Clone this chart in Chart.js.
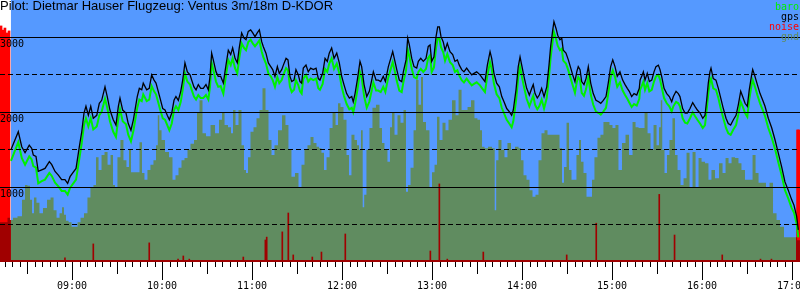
<!DOCTYPE html>
<html lang="de">

<head>
    <meta charset="UTF-8">
    <title>Barogramm D-KDOR</title>
    <script src="https://cdn.jsdelivr.net/npm/chart.js@4.4.1/dist/chart.umd.min.js"></script>
    <style>
        body { margin: 0; background: #fff; }
        .wrap { position: relative; width: 800px; height: 300px; }
        .title { position: absolute; left: 0; top: -2px; font: 13px "Liberation Sans", Arial, sans-serif; color: #000; white-space: nowrap; }
        .legend { position: absolute; right: 1px; top: 2px; font: 10px/10px "DejaVu Sans Mono", monospace; text-align: right; }
    </style>
</head>

<body>
    <div class="wrap">
        <canvas id="barogram"></canvas>
        <div class="title">Pilot: Dietmar Hauser Flugzeug: Ventus 3m/18m D-KDOR</div>
        <div class="legend">
            <div style="color:#00f000">baro</div>
            <div style="color:#000">gps</div>
            <div style="color:#ff0000">noise</div>
            <div style="color:#608c60">gnd</div>
        </div>
    </div>

    <script>
        // times are minutes since midnight, altitudes in metres
        const fixTime = [
            499.3, 504.2, 506.5, 508.7, 511.5, 513.1, 514.2, 516.0, 517.5, 519.8, 522.0, 524.9, 526.5, 528.7, 530.9, 533.1, 535.3, 537.1, 538.7, 540.5,
            542.7, 544.9, 546.5, 548.0, 549.3, 550.9, 552.5, 554.2, 556.5, 558.2, 559.8, 562.0, 563.5, 565.3, 567.5, 569.3, 570.9, 572.0, 573.8, 576.0,
            577.5, 579.3, 580.9, 582.0, 583.5, 584.9, 586.5, 587.5, 589.8, 591.5, 593.1, 594.7, 596.0, 597.5, 598.7,
            600.5, 602.0, 603.5, 604.9, 606.5, 608.0, 609.3, 610.9, 612.5, 613.8, 615.3, 616.9, 618.7, 619.8, 621.3, 622.7, 624.2, 625.8, 627.5, 629.3,
            630.9, 632.0, 633.1, 634.2, 636.0, 637.5, 639.1, 640.9, 642.2, 644.2, 645.8, 647.1, 648.7, 650.2, 651.5, 653.1, 654.7, 656.0, 657.5, 659.1,
            660.5, 662.0, 663.5, 664.9, 666.5, 667.5, 669.3, 670.9, 672.5, 673.8, 675.3, 676.9, 678.2, 679.8, 680.9, 682.7, 684.0, 685.3, 686.5, 688.0,
            689.3, 690.9, 692.0, 693.1, 694.2, 696.0, 697.5, 699.1, 700.9, 702.7, 704.2, 705.3,
            707.1, 708.7, 710.2, 711.5, 713.1, 714.7, 716.5, 718.2, 719.8, 721.3, 723.1, 724.9, 726.5, 727.5, 728.7, 730.2, 732.0, 733.1, 734.7, 736.5,
            738.2, 739.8, 740.9, 742.7, 744.2, 745.8, 747.5, 748.9, 750.9, 752.5, 753.8, 755.3, 756.5, 758.2, 759.8, 760.9, 762.7, 763.8, 764.9, 766.5,
            768.0, 769.8, 770.9, 772.5, 774.2, 776.0, 777.5, 778.7, 779.8, 781.3, 782.7, 783.8, 784.9, 786.0, 787.5, 788.7, 790.2, 792.0, 793.8, 795.3,
            796.9, 798.2, 799.8, 801.3, 803.1, 804.9, 806.5, 808.0, 809.8, 812.0,
            813.8, 815.3, 816.9, 818.7, 819.8, 821.3, 823.1, 824.9, 826.5, 828.0, 829.8, 831.5, 833.1, 834.2, 836.0, 837.5, 838.7, 839.8, 841.3, 843.1,
            844.9, 846.5, 847.5, 848.7, 850.2, 851.5, 853.1, 854.7, 856.5, 858.0, 859.1, 860.5, 861.3, 862.7, 863.8, 865.3, 866.5, 867.5, 869.3, 870.9,
            872.5, 873.8, 875.3, 876.5, 877.5, 878.7, 879.8, 881.3, 882.7, 884.2, 885.8, 887.5, 889.3, 891.1, 892.5, 894.2, 896.0, 897.5, 899.1, 900.5,
            902.0, 903.5, 905.3, 907.1, 908.7, 910.2, 911.5, 913.1, 914.7, 916.5, 918.2,
            918.7, 919.8, 920.9, 922.0, 923.5, 924.9, 926.5, 928.0, 929.3, 930.9, 932.0, 933.1, 934.7, 936.5, 938.2, 939.8, 940.9, 942.7, 944.2, 945.3,
            947.1, 948.7, 950.2, 952.0, 953.8, 955.3, 956.9, 958.7, 960.5, 962.0, 963.1, 964.2, 965.3, 966.0, 967.5, 969.3, 970.9, 972.5, 974.2, 976.0,
            977.5, 979.1, 980.9, 982.7, 984.2, 985.8, 987.1, 988.7, 990.2, 991.5, 993.1, 993.8, 995.3, 996.9, 998.7, 1000.5, 1002.0, 1004.2, 1006.5, 1008.7,
            1010.9, 1013.1, 1015.3, 1017.5, 1019.8, 1021.3, 1023.1, 1024.2
        ];
        const gpsAlt = [
            1500, 1740, 1540, 1460, 1560, 1520, 1430, 1410, 1210, 1230, 1250, 1340, 1300, 1210, 1160, 1100, 1100, 1050, 1140, 1190,
            1250, 1540, 1740, 1990, 2080, 1960, 2080, 1920, 1960, 2120, 2160, 2340, 2210, 2030, 1900, 1830, 2080, 2190, 2030, 1990,
            1850, 1760, 1900, 2030, 2210, 2320, 2300, 2390, 2300, 2320, 2500, 2430, 2390, 2280, 2190,
            2050, 2030, 1960, 1900, 1990, 2160, 2210, 2160, 2280, 2430, 2660, 2540, 2500, 2430, 2340, 2300, 2370, 2320, 2320, 2370,
            2300, 2480, 2790, 2700, 2540, 2480, 2480, 2390, 2570, 2830, 2770, 2860, 2720, 2660, 2860, 3060, 2990, 2970, 3080, 3100,
            3060, 3010, 3060, 3100, 2940, 2880, 2790, 2660, 2610, 2570, 2480, 2610, 2520, 2570, 2630, 2720, 2700, 2480, 2410, 2430,
            2570, 2500, 2410, 2390, 2590, 2630, 2540, 2590, 2570, 2590, 2450, 2430,
            2520, 2720, 2680, 2790, 2860, 2720, 2790, 2660, 2480, 2370, 2250, 2190, 2210, 2140, 2250, 2430, 2680, 2610, 2370, 2210,
            2280, 2430, 2540, 2430, 2430, 2410, 2480, 2410, 2610, 2720, 2810, 2680, 2570, 2430, 2410, 2540, 2700, 2990, 2900, 2720,
            2610, 2590, 2680, 2720, 2680, 2720, 2880, 2900, 2680, 2740, 3010, 3140, 3140, 3010, 2940, 2830, 2920, 2810, 2770, 2680,
            2700, 2630, 2570, 2540, 2590, 2540, 2500, 2520, 2540, 2500,
            2450, 2410, 2630, 2810, 2720, 2520, 2390, 2340, 2210, 2140, 2050, 2010, 1960, 2030, 2300, 2610, 2740, 2630, 2480, 2320,
            2230, 2320, 2370, 2250, 2190, 2230, 2320, 2210, 2340, 2630, 2880, 3100, 3210, 3120, 3030, 2970, 2990, 2830, 2790, 2700,
            2590, 2500, 2410, 2540, 2610, 2570, 2410, 2370, 2450, 2610, 2390, 2250, 2160, 2140, 2120, 2160, 2210, 2390, 2610, 2700,
            2610, 2480, 2540, 2430, 2370, 2320, 2280, 2210, 2250, 2230, 2320,
            2430, 2480, 2540, 2430, 2520, 2410, 2430, 2540, 2610, 2630, 2570, 2480, 2320, 2250, 2210, 2140, 2210, 2280, 2250, 2210,
            2050, 1990, 1990, 2050, 2130, 2080, 2030, 1990, 1920, 1960, 2160, 2390, 2540, 2590, 2450, 2430, 2320, 2190, 2050, 1920,
            1850, 1830, 1900, 1960, 2100, 2280, 2210, 2120, 2080, 2300, 2500, 2570, 2480, 2370, 2250, 2160, 2080, 1920, 1790, 1630,
            1450, 1270, 1070, 960, 830, 760, 610, 430
        ];
        const baroAlt = [
            1350, 1600, 1390, 1300, 1410, 1370, 1280, 1260, 1050, 1080, 1100, 1190, 1150, 1060, 1010, 950, 950, 900, 990, 1040,
            1100, 1380, 1590, 1830, 1920, 1810, 1920, 1770, 1810, 1960, 2010, 2180, 2060, 1880, 1740, 1670, 1920, 2040, 1880, 1840,
            1700, 1610, 1750, 1880, 2060, 2170, 2150, 2240, 2150, 2170, 2350, 2280, 2240, 2130, 2040,
            1920, 1900, 1830, 1760, 1850, 2030, 2080, 2030, 2140, 2300, 2520, 2410, 2370, 2300, 2210, 2170, 2230, 2190, 2190, 2230,
            2170, 2340, 2660, 2570, 2410, 2340, 2350, 2250, 2430, 2700, 2630, 2720, 2590, 2520, 2720, 2920, 2860, 2830, 2940, 2970,
            2920, 2880, 2920, 2960, 2810, 2740, 2650, 2520, 2480, 2430, 2340, 2470, 2390, 2430, 2500, 2590, 2560, 2340, 2270, 2300,
            2430, 2360, 2280, 2250, 2450, 2500, 2410, 2450, 2430, 2450, 2320, 2300,
            2380, 2580, 2540, 2650, 2720, 2580, 2650, 2520, 2340, 2220, 2110, 2040, 2060, 2000, 2110, 2290, 2540, 2470, 2220, 2060,
            2140, 2290, 2400, 2290, 2290, 2270, 2340, 2270, 2470, 2580, 2670, 2540, 2420, 2290, 2270, 2400, 2560, 2840, 2750, 2580,
            2470, 2450, 2540, 2580, 2540, 2580, 2730, 2760, 2540, 2600, 2860, 2990, 2990, 2870, 2800, 2690, 2780, 2670, 2630, 2540,
            2560, 2490, 2430, 2400, 2450, 2400, 2360, 2380, 2400, 2360,
            2310, 2270, 2490, 2670, 2580, 2380, 2240, 2190, 2060, 1990, 1900, 1850, 1800, 1880, 2150, 2470, 2600, 2490, 2340, 2180,
            2080, 2170, 2220, 2100, 2040, 2080, 2170, 2050, 2190, 2480, 2730, 2960, 3070, 2980, 2890, 2830, 2850, 2690, 2650, 2560,
            2450, 2360, 2260, 2400, 2470, 2430, 2260, 2220, 2310, 2470, 2240, 2100, 2010, 1990, 1970, 2010, 2060, 2250, 2470, 2560,
            2470, 2340, 2400, 2290, 2230, 2180, 2130, 2070, 2110, 2090, 2180,
            2300, 2350, 2410, 2300, 2390, 2280, 2300, 2410, 2480, 2500, 2440, 2340, 2190, 2120, 2080, 2010, 2080, 2140, 2120, 2080,
            1920, 1860, 1850, 1920, 2000, 1950, 1900, 1850, 1790, 1830, 2030, 2250, 2410, 2450, 2320, 2300, 2190, 2050, 1920, 1790,
            1720, 1700, 1770, 1830, 1970, 2140, 2080, 1990, 1940, 2170, 2370, 2430, 2340, 2230, 2120, 2030, 1950, 1790, 1660, 1510,
            1330, 1160, 960, 850, 720, 660, 510, 330
        ];

        const gndTime = [
            492.0, 496.0, 498.0,
            499.3, 502.0, 505.3, 508.0, 509.3, 511.3, 512.7, 514.0, 515.3, 517.3, 519.3, 522.0, 524.7, 526.7, 528.7, 530.7, 532.7, 534.0, 535.3, 536.7,
            538.7, 540.7, 542.7, 544.7, 546.7, 549.3, 551.3, 553.3, 555.3, 556.7, 558.7, 560.7, 562.7, 564.7, 566.7, 568.0, 569.3, 571.3, 573.3, 575.3,
            577.3, 578.7, 580.0, 582.0, 584.0, 586.0, 587.3, 589.3, 591.3, 593.3, 595.3, 596.7, 597.7,
            598.7, 600.7, 603.3, 606.0, 608.0, 610.0, 612.0, 614.0, 616.0, 618.0, 620.0, 622.7, 624.0, 626.0, 628.0, 630.7, 634.0, 636.7, 639.3, 640.7,
            642.7, 645.3, 646.7, 648.0, 650.0, 652.0, 654.0, 655.3, 656.7, 658.0, 660.0, 662.0, 664.0, 666.0, 668.0, 670.0, 672.0, 674.0, 676.0, 678.7,
            681.3, 683.3, 685.3, 687.3, 690.0, 692.0, 694.0, 696.0, 698.0, 700.0, 702.0, 704.0,
            705.3, 707.3, 708.7, 710.7, 712.7, 714.7, 716.7, 718.0, 720.0, 722.0, 724.0, 725.3, 727.3, 729.3, 730.7, 732.0, 733.3, 734.3, 735.3, 737.3,
            739.3, 741.3, 744.0, 746.0, 747.3, 749.3, 751.3, 752.7, 754.0, 756.0, 758.0, 760.0, 762.0, 763.3, 764.7, 766.7, 768.7, 770.0, 772.0, 773.3,
            774.7, 777.3, 779.3, 780.7, 782.7, 784.0, 786.0, 788.0, 790.0, 792.0, 794.7, 796.7, 798.7, 800.7, 802.7, 804.7, 807.3, 809.3, 811.3,
            812.7, 814.0, 816.0, 818.7, 821.3, 822.3, 823.3, 825.3, 827.3, 829.3, 831.3, 834.0, 836.7, 838.7, 840.0, 842.0, 844.0, 846.0, 848.0, 850.0,
            852.0, 854.0, 856.0, 858.0, 860.0, 862.0, 864.0, 866.0, 867.3, 868.7, 870.7, 872.0, 874.0, 875.3, 877.3, 878.7, 880.0, 882.0, 884.0, 886.0,
            887.3, 889.3, 891.3, 893.3, 895.3, 897.3, 899.3, 901.3, 903.3, 905.3, 908.0, 910.0, 912.7, 914.7, 916.7, 918.7,
            920.7, 922.7, 924.7, 926.7, 928.7, 930.7, 932.0, 933.0, 934.0, 936.0, 937.3, 939.3, 941.3, 942.7, 944.7, 946.7, 948.7, 950.7, 952.7, 954.7,
            956.7, 958.7, 960.7, 963.3, 965.3, 967.3, 970.0, 972.7, 974.7, 976.7, 978.7, 980.7, 983.3, 985.3, 987.3, 990.0, 992.7, 994.7, 996.7, 998.7,
            1001.3, 1004.0, 1006.0, 1008.7, 1010.7, 1013.3, 1016.0, 1020.0, 1022.7, 1024.0, 1025.3
        ];
        const gndAlt = [
            530, 530, 590,
            560, 590, 610, 830, 1030, 1020, 830, 650, 860, 790, 650, 720, 830, 860, 690, 590, 650, 730, 630, 550,
            530, 470, 470, 530, 590, 650, 860, 990, 1030, 1400, 1230, 1430, 1470, 1300, 1430, 1030, 1000, 1400, 1630, 1360,
            1270, 1500, 1200, 1200, 1200, 1600, 1190, 1100, 1230, 1300, 1360, 1560, 1960,
            1760, 1630, 1470, 1400, 1100, 1160, 1260, 1360, 1390, 1500, 1580, 1630, 1990, 2160, 1720, 1680, 1830, 1720, 1900, 2000,
            1830, 1800, 1720, 2030, 1830, 2030, 1560, 1230, 1190, 1400, 1740, 1800, 1920, 2030, 2320, 2030, 1630, 1430, 1560, 1760,
            1960, 1830, 1500, 1140, 1190, 1000, 1300, 1500, 1560, 1670, 1590, 1540,
            1520, 1460, 1230, 1400, 1790, 1990, 1830, 2120, 2070, 1900, 1430, 1160, 1700, 1630, 1560, 1500, 1760, 730, 900, 1500,
            1790, 2060, 2100, 1790, 1590, 1500, 1340, 1800, 2000, 1700, 1960, 1860, 2030, 940, 1030, 1260, 1760, 2430, 2100, 2470,
            1870, 1760, 1000, 1200, 1300, 1940, 1630, 1860, 1760, 1900, 2160, 1960, 2300, 2030, 2030, 2070, 2160, 1920, 1900,
            1760, 1540, 1520, 1540, 1520, 690, 1360, 1630, 1500, 1400, 1590, 1500, 1540, 1520, 1360, 1160, 1100, 960, 870, 900,
            1360, 1720, 1760, 1700, 1700, 1700, 1700, 1520, 1060, 1270, 1860, 1230, 1100, 1100, 1430, 1630, 1340, 1190, 870, 870,
            1100, 1400, 1660, 1700, 1870, 1870, 1830, 1790, 1830, 1230, 1590, 1700, 1430, 1870, 1800, 1790,
            1790, 1990, 1720, 1500, 1830, 1560, 1800, 2160, 1500, 1190, 1430, 1630, 1920, 1430, 1230, 1030, 1120, 1460, 990, 1470,
            1000, 1390, 1340, 1320, 1100, 1230, 1120, 1320, 1190, 1390, 1320, 1400, 1390, 1320, 1230, 1100, 1100, 1430, 1190, 1060,
            1060, 1000, 1060, 650, 560, 470, 330, 330, 330, 290, 290
        ];

        // engine noise level (0..1000), drawn behind the terrain
        const engineTime = [492.7, 494.0, 495.3, 496.7, 498.0, 1023.7, 1024.5];
        const engineLevel = [901, 885, 893, 874, 882, 504, 504];
        // short noise peaks during the glide
        const noiseTime = [
            535.3, 554.2, 591.5, 610.7, 614.2, 618.2, 654.2, 668.9, 669.8, 680.2, 684.2, 687.5, 700.2, 706.3,
            722.2, 778.9, 784.9, 790.2, 814.2, 869.8, 889.5, 931.5, 941.7, 973.5, 999.0, 1006.3
        ];
        const noiseLevel = [
            16, 69, 73, 11, 23, 11, 19, 84, 95, 115, 187, 27, 19, 38,
            107, 42, 298, 11, 38, 27, 148, 258, 103, 27, 11, 11
        ];

        const hourTicks = [540, 600, 660, 720, 780, 840, 900, 960, 1020];
        const engineStop = 499.3;
        const engineStart = 1022.7;

        const SKY = '#5599ff';
        const GND = '#608c60';
        const DARKRED = '#a00000';
        const monoFont = { family: 'DejaVu Sans Mono', size: 10 };

        const xy = (ts, vs) => ts.map((t, i) => ({ x: t, y: vs[i] }));
        const hhmm = v => String(Math.floor(v / 60)).padStart(2, '0') + ':' + String(v % 60).padStart(2, '0');

        // sky background during the flight and the 5 minute tick marks
        const framePlugin = {
            id: 'frame',
            beforeDraw(chart) {
                const { ctx, chartArea: a, scales: { x } } = chart;
                ctx.save();
                ctx.fillStyle = '#fff';
                ctx.fillRect(0, 0, chart.width, chart.height);
                const x0 = x.getPixelForValue(fixTime[0]);
                ctx.fillStyle = SKY;
                ctx.fillRect(x0, a.top, a.right - x0, a.bottom - a.top);
                ctx.restore();
            },
            afterDraw(chart) {
                const { ctx, chartArea: a, scales: { x } } = chart;
                ctx.save();
                ctx.fillStyle = DARKRED;
                ctx.fillRect(a.left, a.bottom - 2, a.right - a.left, 2);
                ctx.strokeStyle = '#000';
                ctx.lineWidth = 1;
                ctx.beginPath();
                for (let t = Math.ceil(x.min / 5) * 5; t <= x.max; t += 5) {
                    const px = Math.round(x.getPixelForValue(t)) + 0.5;
                    const len = t % 60 === 0 ? 18 : (t % 30 === 0 ? 12 : 5);
                    ctx.moveTo(px, a.bottom);
                    ctx.lineTo(px, a.bottom + len);
                }
                ctx.stroke();
                ctx.restore();
            }
        };

        new Chart(document.getElementById('barogram'), {
            type: 'line',
            data: {
                datasets: [
                    {
                        label: 'gps', data: xy(fixTime, gpsAlt),
                        borderColor: '#000', borderWidth: 1.3, pointRadius: 0, order: 0
                    },
                    {
                        label: 'baro', data: xy(fixTime, baroAlt),
                        borderColor: '#00f000', borderWidth: 2, pointRadius: 0, order: 1
                    },
                    {
                        label: 'noise', type: 'bar', data: xy(noiseTime, noiseLevel), yAxisID: 'yn',
                        backgroundColor: DARKRED, barThickness: 1, grouped: false, order: 2
                    },
                    {
                        label: 'gnd', data: xy(gndTime, gndAlt), stepped: 'middle', fill: 'origin',
                        backgroundColor: GND, borderWidth: 0, borderColor: 'rgba(0,0,0,0)', pointRadius: 0, order: 3,
                        segment: {
                            backgroundColor: c => (c.p1.parsed.x <= engineStop || c.p0.parsed.x >= engineStart) ? DARKRED : GND
                        }
                    },
                    {
                        label: 'noise engine', type: 'bar', data: xy(engineTime, engineLevel), yAxisID: 'yn',
                        backgroundColor: '#ff0000', barThickness: 2, grouped: false, order: 4
                    }
                ]
            },
            options: {
                responsive: true,
                maintainAspectRatio: false,
                devicePixelRatio: 1,
                animation: false,
                layout: { padding: 0 },
                plugins: { legend: { display: false }, tooltip: { enabled: false } },
                scales: {
                    x: {
                        type: 'linear', position: 'bottom', min: 492, max: 1025.33, offset: false,
                        afterBuildTicks: s => { s.ticks = hourTicks.map(v => ({ value: v })); },
                        afterFit: s => { s.height = 38; s.paddingLeft = 0; s.paddingRight = 0; },
                        grid: { display: false, drawTicks: false, offset: false },
                        border: { display: false },
                        ticks: { autoSkip: false, maxRotation: 0, padding: 18, color: '#000', font: monoFont, callback: v => hhmm(v) }
                    },
                    y: {
                        type: 'linear', position: 'left', min: 0, max: 3500,
                        afterFit: s => { s.width = 0; s.paddingTop = 0; s.paddingBottom = 0; },
                        ticks: {
                            z: 1, stepSize: 500, mirror: true, padding: 0, labelOffset: 7, color: '#000', font: monoFont,
                            callback: v => (v % 1000 === 0 && v > 0 && v < 3500) ? String(v) : ''
                        },
                        grid: {
                            z: 1, drawTicks: false,
                            color: c => (c.tick && c.tick.value > 0 && c.tick.value < 3500) ? '#000' : 'rgba(0,0,0,0)'
                        },
                        border: { display: false, dash: c => (c.tick && c.tick.value % 1000) ? [5, 3] : [] }
                    },
                    yn: { type: 'linear', display: false, min: 0, max: 1000 }
                }
            },
            plugins: [framePlugin]
        });
    </script>
</body>

</html>
